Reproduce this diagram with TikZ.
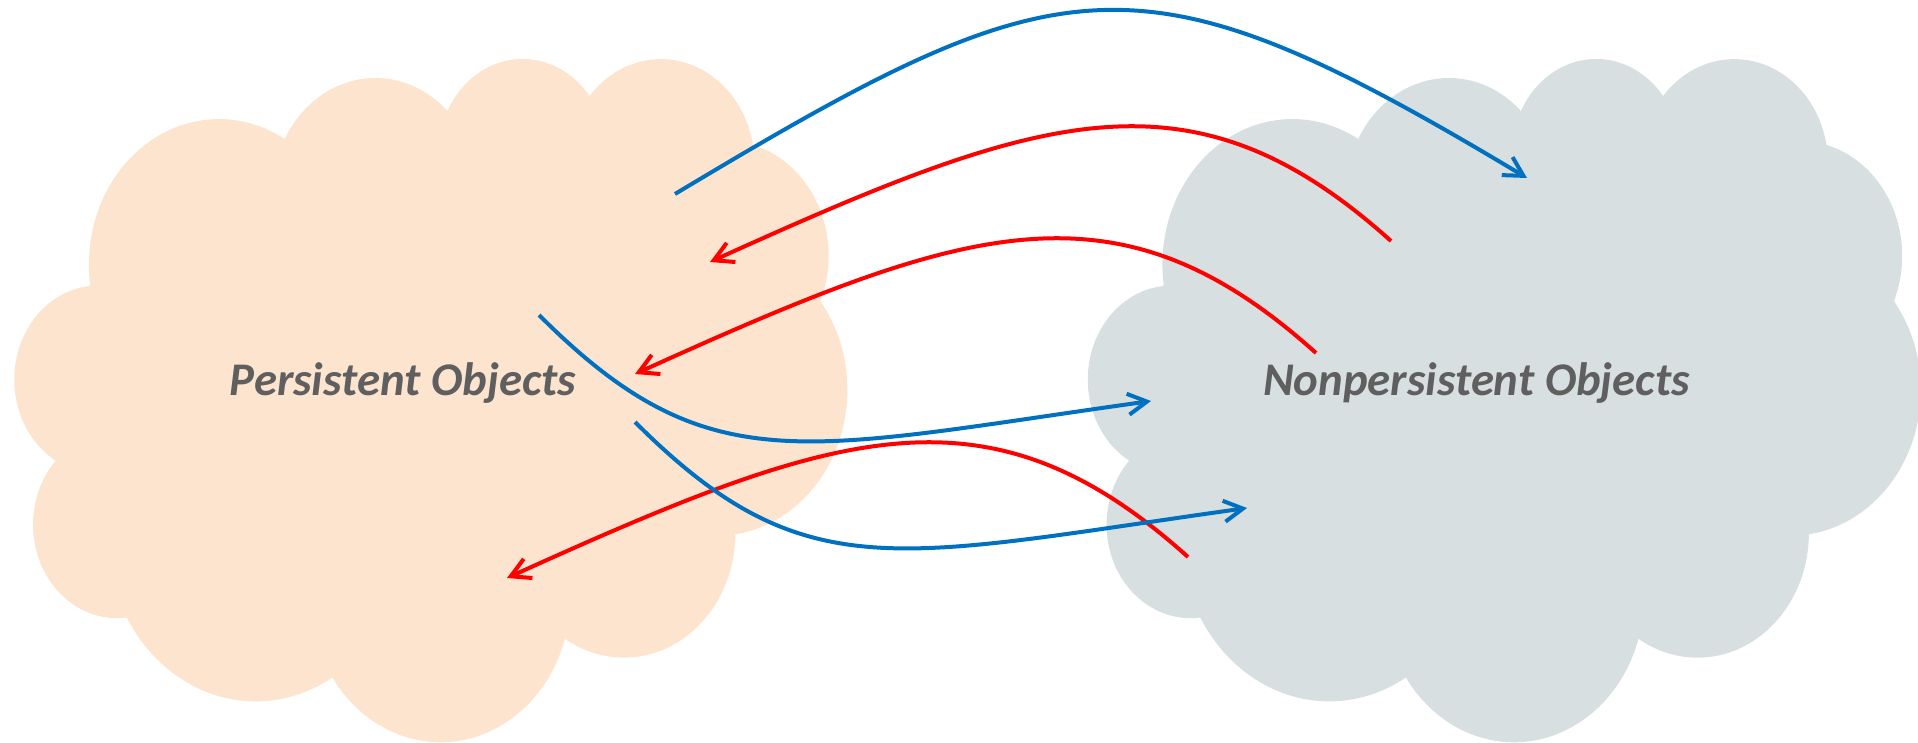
\documentclass[tikz,border=0pt]{standalone}
\usepackage{fontspec}
\setmainfont{Carlito}
\usetikzlibrary{arrows.meta,calc}

\definecolor{peach}{HTML}{FDE4CE}
\definecolor{mist}{HTML}{D7DFE1}
\definecolor{labelgray}{HTML}{5F5F5F}
\definecolor{flowblue}{HTML}{0070C0}
\definecolor{flowred}{HTML}{FF0000}

% Outline of a cloud, 832 x 683 units, starting from its upper-left notch
\newcommand\cloudoutline{%
  arc[start angle=-187.745, end angle=-59.637,  x radius=130.06, y radius=145.30]
  arc[start angle=-152.019, end angle=-45.453,  x radius=102.71, y radius=114.90]
  arc[start angle=-153.49,  end angle=-37.32,   x radius=84.07,  y radius=94.00]
  arc[start angle=-139.72,  end angle=-10.212,  x radius=93.54,  y radius=104.27]
  arc[start angle=-74.77,   end angle=23.21,    x radius=102.71, y radius=115.00]
  arc[start angle=-37.52,   end angle=81.863,   x radius=130.48, y radius=145.78]
  arc[start angle=0.46,     end angle=121.98,   x radius=111.41, y radius=124.39]
  arc[start angle=16.845,   end angle=146.24,   x radius=130.04, y radius=145.70]
  arc[start angle=58.98,    end angle=150.19,   x radius=148.68, y radius=166.70]
  arc[start angle=83.306,   end angle=223.11,   x radius=83.97,  y radius=93.57]
  arc[start angle=120.34,   end angle=264.118,  x radius=83.68,  y radius=94.00]
  -- cycle}

\tikzset{
  cloudlabel/.style={font=\fontsize{23.4}{28}\selectfont\bfseries\itshape,
    text=labelgray, anchor=base, inner sep=0pt},
  flow/.style={line width=2pt,
    -{Straight Barb[length=9.5pt,width=10.5pt]}},
  toobj/.style={flow, draw=flowblue},
  topers/.style={flow, draw=flowred},
}

\begin{document}
\begin{tikzpicture}[x=0.5pt, y=-0.5pt]
  \useasboundingbox (0,0) rectangle (1918,743);

  % the two clouds
  \fill[peach] (90.11,283.94) \cloudoutline;
  \fill[mist] (1163.61,283.94) \cloudoutline;

  % labels
  \node[cloudlabel] (pers) at (403,395.5) {Persistent Objects};
  \node[cloudlabel] (nonpers) at (1476.5,395.5) {Nonpersistent Objects};

  % end points of the transitions
  \coordinate (r1s) at (1391,241);  \coordinate (r1e) at (710,262);
  \coordinate (r2s) at (1316,353);  \coordinate (r2e) at (635,374);
  \coordinate (r3s) at (1188,557);  \coordinate (r3e) at (507,578);
  \coordinate (b1s) at (675,194);   \coordinate (b1e) at (1527,178);
  \coordinate (b2s) at (539,315);   \coordinate (b2e) at (1151,401);
  \coordinate (b3s) at (635,422);   \coordinate (b3e) at (1247,508);

  % red: back into the persistent set
  \draw[topers] (r1s) .. controls ($(r1s)+(-200,-180)$) and ($(r1s)+(-351,-128.5)$) .. (r1e);
  \draw[topers] (r2s) .. controls ($(r2s)+(-200,-180)$) and ($(r2s)+(-351,-128.5)$) .. (r2e);
  \draw[topers] (r3s) .. controls ($(r3s)+(-200,-180)$) and ($(r3s)+(-351,-128.5)$) .. (r3e);

  % blue: out to the nonpersistent set
  \draw[toobj] (b1s) .. controls ($(b1s)+(390,-234)$) and ($(b1s)+(462,-250)$) .. (b1e);
  \draw[toobj] (b2s) .. controls ($(b2s)+(170,170)$) and ($(b2s)+(262,135)$) .. (b2e);
  \draw[toobj] (b3s) .. controls ($(b3s)+(170,170)$) and ($(b3s)+(262,135)$) .. (b3e);
\end{tikzpicture}
\end{document}
